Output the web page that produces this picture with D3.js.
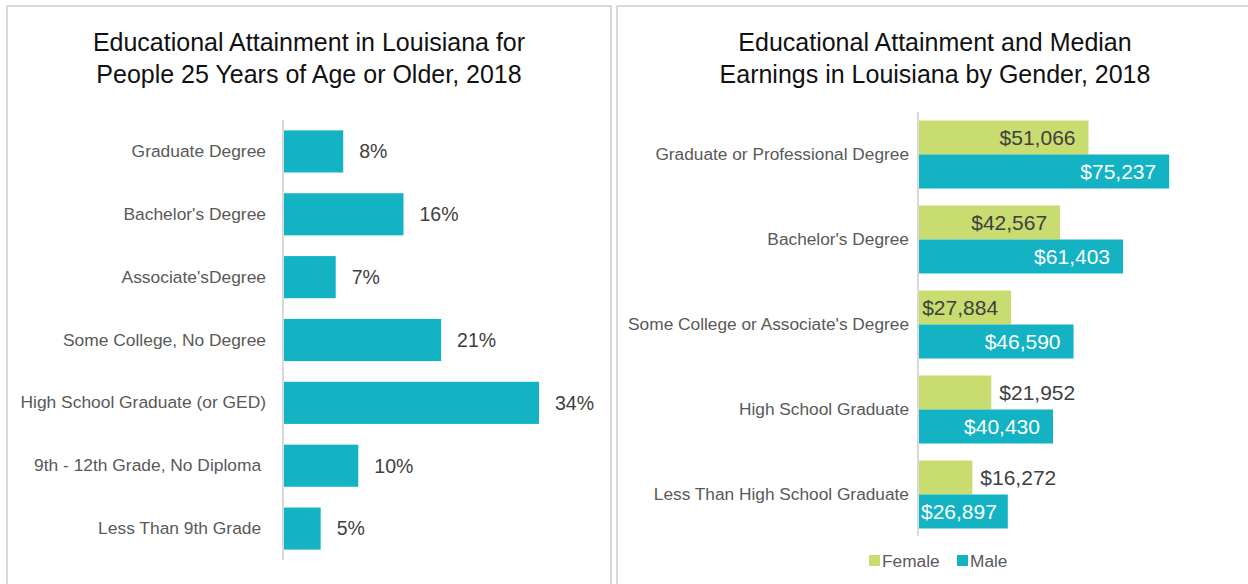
<!DOCTYPE html>
<html>
<head>
<meta charset="utf-8">
<script src="https://cdn.jsdelivr.net/npm/d3@7"></script>
<style>
  html, body { margin: 0; padding: 0; background: #fff; }
  svg { display: block; font-family: "Liberation Sans", Arial, sans-serif; }
</style>
</head>
<body>
<svg id="chart" width="1248" height="584"></svg>
<script>
// Educational attainment, people 25+ (percent)
const levels = [
  "Graduate Degree",
  "Bachelor's Degree",
  "Associate'sDegree",
  "Some College, No Degree",
  "High School Graduate (or GED)",
  "9th - 12th Grade, No Diploma ",
  "Less Than 9th Grade "
];
const shares = [8, 16, 7, 21, 34, 10, 5];

// Median earnings by gender
const earnLevels = [
  "Graduate or Professional Degree",
  "Bachelor's Degree",
  "Some College or Associate's Degree",
  "High School Graduate",
  "Less Than High School Graduate"
];
const femaleEarn = [51066, 42567, 27884, 21952, 16272];
const maleEarn = [75237, 61403, 46590, 40430, 26897];
const seriesNames = ["Female", "Male"];

const teal = "#13b3c3";
const green = "#c8dc70";
const gridGrey = "#d9d9d9";
const labelGrey = "#595959";
const valueGrey = "#404040";

const svg = d3.select("#chart");

// panel frames
svg.append("rect").attr("x", 7).attr("y", 6).attr("width", 604).attr("height", 640)
  .attr("fill", "none").attr("stroke", gridGrey).attr("stroke-width", 2);
svg.append("rect").attr("x", 617).attr("y", 6).attr("width", 700).attr("height", 640)
  .attr("fill", "none").attr("stroke", gridGrey).attr("stroke-width", 2);

function title(cx, lines) {
  const t = svg.append("text").attr("text-anchor", "middle")
    .attr("font-size", 25).attr("fill", "#111");
  lines.forEach((l, i) => {
    t.append("tspan").attr("x", cx).attr("y", 51 + i * 32).text(l);
  });
}
title(309, ["Educational Attainment in Louisiana for", "People 25 Years of Age or Older, 2018"]);
title(935, ["Educational Attainment and Median", "Earnings in Louisiana by Gender, 2018"]);

// ---- left: share of population by attainment ----
{
  const x0 = 283;
  const x = d3.scaleLinear().domain([0, 34]).range([x0, 539]);
  const y = d3.scaleBand().domain(levels).range([120, 560]).paddingInner(0.33).paddingOuter(0.165);

  const g = svg.append("g");
  g.selectAll("rect.bar").data(levels).join("rect")
    .attr("class", "bar")
    .attr("x", x(0))
    .attr("y", d => y(d))
    .attr("width", (d, i) => x(shares[i]) - x(0))
    .attr("height", y.bandwidth())
    .attr("fill", teal);

  const axis = g.append("g").attr("transform", `translate(${x0},0)`)
    .call(d3.axisLeft(y).tickSize(0).tickPadding(17));
  axis.select(".domain").attr("stroke", gridGrey).attr("stroke-width", 2)
    .attr("d", "M0,120V560");
  axis.selectAll(".tick text").attr("font-size", 17.4).attr("fill", labelGrey)
    .attr("font-family", "Liberation Sans, Arial, sans-serif")
    .style("white-space", "pre");

  g.selectAll("text.val").data(levels).join("text")
    .attr("class", "val")
    .attr("x", (d, i) => x(shares[i]) + 16)
    .attr("y", d => y(d) + y.bandwidth() / 2)
    .attr("dy", "0.35em")
    .attr("font-size", 19.5).attr("fill", valueGrey)
    .text((d, i) => shares[i] + "%");
}

// ---- right: median earnings by gender ----
{
  const x0 = 918;
  const x = d3.scaleLinear().domain([0, 90000]).range([x0, x0 + 300.5]);
  const y = d3.scaleBand().domain(earnLevels).range([112, 537]).paddingInner(0.2).paddingOuter(0.1);
  const sub = d3.scaleBand().domain(seriesNames).range([0, y.bandwidth()]);
  const fmt = d3.format("$,");

  const rows = earnLevels.flatMap((lvl, i) => [
    { lvl, s: "Female", v: femaleEarn[i], fill: green, txt: valueGrey },
    { lvl, s: "Male", v: maleEarn[i], fill: teal, txt: "#ffffff" }
  ]);

  const g = svg.append("g");
  g.selectAll("rect.bar").data(rows).join("rect")
    .attr("class", "bar")
    .attr("x", x(0))
    .attr("y", d => y(d.lvl) + sub(d.s))
    .attr("width", d => x(d.v) - x(0))
    .attr("height", sub.bandwidth())
    .attr("fill", d => d.fill);

  const axis = g.append("g").attr("transform", `translate(${x0},0)`)
    .call(d3.axisLeft(y).tickSize(0).tickPadding(9));
  axis.select(".domain").attr("stroke", gridGrey).attr("stroke-width", 2)
    .attr("d", "M0,112V536");
  axis.selectAll(".tick text").attr("font-size", 17.3).attr("fill", labelGrey)
    .attr("font-family", "Liberation Sans, Arial, sans-serif");

  // value labels: inside the bar end when there is room, otherwise just past it
  const labels = g.selectAll("text.val").data(rows).join("text")
    .attr("class", "val")
    .attr("y", d => y(d.lvl) + sub(d.s) + sub.bandwidth() / 2)
    .attr("dy", "0.35em")
    .attr("font-size", 21)
    .text(d => fmt(d.v));
  labels.each(function(d) {
    const w = this.getComputedTextLength();
    const barW = x(d.v) - x(0);
    const t = d3.select(this);
    if (barW >= w + 16) {
      t.attr("x", x(d.v) - 13).attr("text-anchor", "end").attr("fill", d.txt);
    } else if (barW >= w + 12) {
      t.attr("x", x(0) + 3).attr("text-anchor", "start").attr("fill", d.txt);
    } else {
      t.attr("x", x(d.v) + 8).attr("text-anchor", "start").attr("fill", valueGrey);
    }
  });

  // legend
  const lg = svg.append("g").attr("transform", "translate(869,561)");
  const items = [
    { name: seriesNames[0], fill: green, dx: 0 },
    { name: seriesNames[1], fill: teal, dx: 88 }
  ];
  items.forEach(it => {
    lg.append("rect").attr("x", it.dx).attr("y", -6).attr("width", 11).attr("height", 11).attr("fill", it.fill);
    lg.append("text").attr("x", it.dx + 13).attr("y", 0).attr("dy", "0.35em")
      .attr("font-size", 17.3).attr("fill", labelGrey).text(it.name);
  });
}
</script>
</body>
</html>
